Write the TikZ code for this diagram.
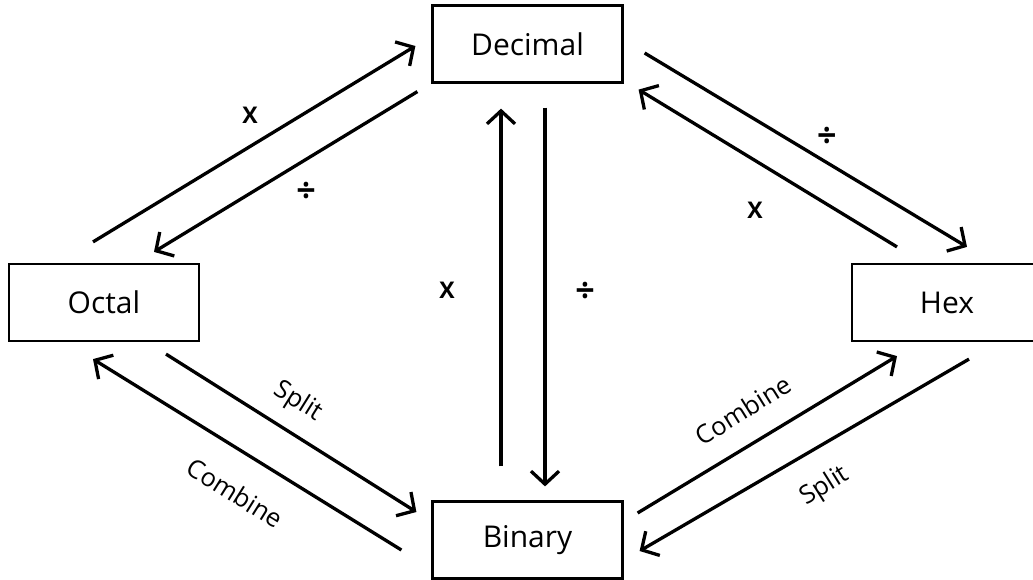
\documentclass[tikz,border=0pt]{standalone}
\usepackage{fontspec}
\setmainfont{Open Sans}
\usetikzlibrary{arrows.meta}
\begin{document}
\begin{tikzpicture}[x=1pt,y=-1pt,
  box/.style={draw, line width=2.2pt, minimum width=190pt, minimum height=77pt, inner sep=0pt, font=\fontsize{30}{36}\selectfont},
  conn/.style={line width=3.3pt, -{Straight Barb[length=13pt,width=28pt]}},
  oplbl/.style={font=\bfseries\fontsize{23}{28}\selectfont, inner sep=0pt},
  divlbl/.style={font=\bfseries\fontsize{34}{40}\selectfont, inner sep=0pt},
  wordlbl/.style={font=\fontsize{25.5}{30}\selectfont, inner sep=0pt}
]
\fill[white] (0,0) rectangle (1033,579);
\useasboundingbox (0,0) rectangle (1033,579);

\node[box] (dec) at (527.5,44) {Decimal};
\node[box] (oct) at (104,302.5) {Octal};
\node[box] (bin) at (527.5,540) {Binary};
\node[box] (hex) at (947,302.5) {Hex};

% Octal <-> Decimal
\draw[conn] ([shift={(-11,-21)}]oct.north) -- ([shift={(-16,2)}]dec.west);
\draw[conn] ([shift={(-14,8)}]dec.south west) -- ([shift={(50,-11)}]oct.north);
% Decimal <-> Hex
\draw[conn] ([shift={(21,9)}]dec.east) -- ([shift={(20,-16)}]hex.north);
\draw[conn] ([shift={(-50,-16)}]hex.north) -- ([shift={(15,6)}]dec.south east);
% Octal <-> Binary
\draw[conn] ([shift={(62,12)}]oct.south) -- ([shift={(-15,-28)}]bin.west);
\draw[conn] ([shift={(-30,10)}]bin.west) -- ([shift={(-11,17)}]oct.south);
% Binary <-> Hex
\draw[conn] ([shift={(14,-27)}]bin.east) -- ([shift={(-50,14)}]hex.south);
\draw[conn] ([shift={(22,17)}]hex.south) -- ([shift={(16,11)}]bin.east);
% Binary <-> Decimal
\draw[conn] ([shift={(-26.5,-34)}]bin.north) -- ([shift={(-26.5,25)}]dec.south);
\draw[conn] ([shift={(17.5,24)}]dec.south) -- ([shift={(17.5,-14)}]bin.north);

% labels
\node[oplbl] (l1) at (250,115) {X};
\node[divlbl] (l2) at (306,192) {÷};
\node[divlbl] (l3) at (826.7,137.3) {÷};
\node[oplbl] (l4) at (755,210.7) {X};
\node[oplbl] (l5) at (447,290) {X};
\node[divlbl] (l6) at (585,292) {÷};
\node[wordlbl, rotate=-32] (l7) at (298,401.7) {Split};
\node[wordlbl, rotate=-32] (l8) at (235,493) {Combine};
\node[wordlbl, rotate=32] (l9) at (743.3,410) {Combine};
\node[wordlbl, rotate=32] (l10) at (825,486.7) {Split};
\end{tikzpicture}
\end{document}
